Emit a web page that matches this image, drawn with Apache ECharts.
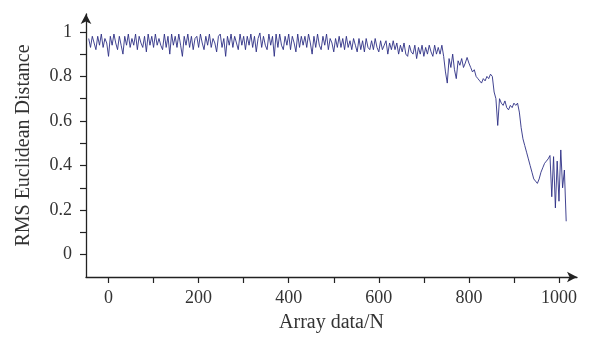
<!DOCTYPE html>
<html>
<head>
<meta charset="utf-8">
<script src="https://cdn.jsdelivr.net/npm/echarts@6/dist/echarts.min.js"></script>
<style>html,body{margin:0;padding:0;background:#fff;}#c{width:592px;height:343px;}</style>
</head>
<body>
<div id="c"></div>
<script>
// Sample positions start at -44 and advance by 4 (array index -> x position)
const xStart = -44;
const xStep = 4;
// RMS Euclidean Distance values
const rmsValues = [
  0.97,0.93,0.98,0.95,0.92,0.98,0.94,0.99,0.93,0.97,
  0.95,0.89,0.98,0.94,0.99,0.95,0.92,0.98,0.94,0.90,
  0.98,0.94,0.99,0.93,0.97,0.94,0.99,0.92,0.98,0.95,
  0.93,0.98,0.91,0.99,0.94,0.98,0.93,0.99,0.94,0.97,
  0.94,0.92,0.99,0.93,0.98,0.90,0.99,0.94,0.98,0.93,
  0.99,0.94,0.89,0.98,0.94,0.99,0.93,0.98,0.92,0.97,
  0.98,0.93,0.99,0.95,0.92,0.98,0.94,0.99,0.93,0.97,
  0.95,0.91,0.98,0.99,0.93,0.97,0.89,0.98,0.94,0.99,
  0.93,0.98,0.95,0.92,0.99,0.94,0.98,0.92,0.98,0.94,
  0.99,0.93,0.98,0.91,0.97,0.995,0.93,0.98,0.94,0.92,
  0.99,0.94,0.98,0.89,0.99,0.93,0.99,0.94,0.92,0.98,
  0.94,0.99,0.92,0.98,0.95,0.91,0.99,0.93,0.98,0.94,
  0.98,0.93,0.99,0.95,0.90,0.98,0.93,0.99,0.94,0.92,
  0.98,0.94,0.99,0.92,0.97,0.95,0.91,0.97,0.93,0.98,
  0.93,0.97,0.92,0.98,0.93,0.96,0.92,0.97,0.94,0.91,
  0.97,0.92,0.96,0.91,0.97,0.93,0.92,0.96,0.92,0.97,
  0.93,0.91,0.96,0.92,0.94,0.96,0.90,0.95,0.92,0.96,
  0.92,0.95,0.90,0.94,0.91,0.95,0.90,0.89,0.94,0.91,
  0.90,0.94,0.88,0.93,0.90,0.94,0.89,0.93,0.90,0.94,
  0.91,0.89,0.94,0.90,0.93,0.90,0.94,0.89,0.82,0.77,
  0.88,0.84,0.90,0.83,0.79,0.87,0.85,0.88,0.84,0.86,
  0.885,0.86,0.84,0.82,0.83,0.80,0.79,0.78,0.77,0.79,
  0.78,0.80,0.79,0.81,0.80,0.73,0.70,0.58,0.70,0.68,
  0.67,0.69,0.66,0.65,0.67,0.66,0.68,0.67,0.68,0.64,
  0.57,0.52,0.49,0.46,0.43,0.40,0.37,0.34,0.33,0.32,
  0.34,0.37,0.39,0.41,0.42,0.43,0.445,0.26,0.44,0.21,
  0.42,0.24,0.47,0.30,0.38,0.15
];
const xTicks = [0,100,200,300,400,500,600,700,800,900,1000];
const xLabels = [0,200,400,600,800,1000];
const yTicks = [0,0.1,0.2,0.3,0.4,0.5,0.6,0.7,0.8,0.9,1];
const yLabels = [0,0.2,0.4,0.6,0.8,1];
const xName = 'Array data/N';
const yName = 'RMS Euclidean Distance';

const seriesData = rmsValues.map((v, i) => [xStart + i * xStep, v]);
const font = 'Liberation Serif, Times New Roman, serif';
const axisCol = '#222';

const chart = echarts.init(document.getElementById('c'), null, {renderer: 'canvas'});
chart.setOption({
  animation: false,
  backgroundColor: '#fff',
  grid: {left: 86, right: 15, top: 14, bottom: 66, containLabel: false},
  xAxis: {
    type: 'value', min: -50, max: 1040,
    name: xName, nameLocation: 'middle', nameGap: 36,
    nameTextStyle: {fontFamily: font, fontSize: 20, color: '#333'},
    axisLine: {show: true, onZero: false, symbol: ['none','arrow'], symbolSize: [8, 10], lineStyle: {color: axisCol, width: 1.3}},
    axisTick: {show: true, inside: false, length: 6, customValues: xTicks, lineStyle: {color: axisCol, width: 1.2}},
    axisLabel: {customValues: xLabels, margin: 12, fontFamily: font, fontSize: 18, color: '#333',
      formatter: v => String(v)},
    splitLine: {show: false}
  },
  yAxis: {
    type: 'value', min: -0.1, max: 1.08,
    name: yName, nameLocation: 'middle', nameGap: 52,
    nameTextStyle: {fontFamily: font, fontSize: 20, color: '#333'},
    axisLine: {show: true, onZero: false, symbol: ['none','arrow'], symbolSize: [8, 10], lineStyle: {color: axisCol, width: 1.3}},
    axisTick: {show: true, inside: false, length: 6, customValues: yTicks, lineStyle: {color: axisCol, width: 1.2}},
    axisLabel: {customValues: yLabels, margin: 14, fontFamily: font, fontSize: 18, color: '#333',
      formatter: v => String(Math.round(v * 10) / 10)},
    splitLine: {show: false}
  },
  series: [{
    type: 'line', data: seriesData, showSymbol: false, symbol: 'none',
    lineStyle: {color: '#2c2f85', width: 0.9}
  }]
});
</script>
</body>
</html>
